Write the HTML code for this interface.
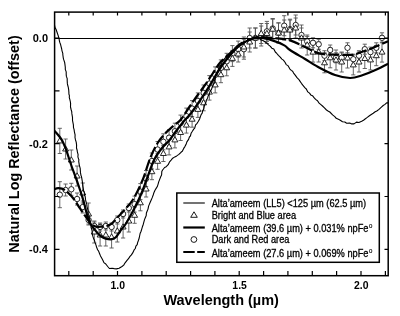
<!DOCTYPE html><html><head><meta charset="utf-8"><style>html,body{margin:0;padding:0;background:#fff;width:400px;height:316px;overflow:hidden}svg{display:block;will-change:transform}text{font-family:"Liberation Sans",sans-serif}</style></head><body>
<svg width="400" height="316" viewBox="0 0 400 316">
<defs><clipPath id="c"><rect x="54" y="12" width="334" height="263"/></clipPath></defs>
<g clip-path="url(#c)" fill="none" stroke="#000" stroke-linejoin="round">
<path d="M59.8,181.7V207.7M57.7,181.7h4.2M57.7,207.7h4.2M59.8,128.3V153.5M57.7,128.3h4.2M57.7,153.5h4.2M65.6,184.0V196.0M63.5,184.0h4.2M63.5,196.0h4.2M65.6,139.0V159.0M63.5,139.0h4.2M63.5,159.0h4.2M71.3,183.3V195.3M69.2,183.3h4.2M69.2,195.3h4.2M71.3,150.0V170.0M69.2,150.0h4.2M69.2,170.0h4.2M77.1,193.0V205.0M75.0,193.0h4.2M75.0,205.0h4.2M77.1,166.0V186.0M75.0,166.0h4.2M75.0,186.0h4.2M82.8,201.0V213.0M80.7,201.0h4.2M80.7,213.0h4.2M82.8,183.0V203.0M80.7,183.0h4.2M80.7,203.0h4.2M88.6,216.0V224.0M86.5,216.0h4.2M86.5,224.0h4.2M88.6,203.0V225.0M86.5,203.0h4.2M86.5,225.0h4.2M94.3,222.0V230.0M92.2,222.0h4.2M92.2,230.0h4.2M94.3,221.0V243.0M92.2,221.0h4.2M92.2,243.0h4.2M100.1,223.0V231.0M98.0,223.0h4.2M98.0,231.0h4.2M100.1,224.0V246.0M98.0,224.0h4.2M98.0,246.0h4.2M105.8,222.0V230.0M103.7,222.0h4.2M103.7,230.0h4.2M105.8,224.0V246.0M103.7,224.0h4.2M103.7,246.0h4.2M111.6,223.0V231.0M109.5,223.0h4.2M109.5,231.0h4.2M111.6,226.0V248.0M109.5,226.0h4.2M109.5,248.0h4.2M117.3,216.0V224.0M115.2,216.0h4.2M115.2,224.0h4.2M117.3,220.0V242.0M115.2,220.0h4.2M115.2,242.0h4.2M123.1,210.0V218.0M121.0,210.0h4.2M121.0,218.0h4.2M123.1,216.0V238.0M121.0,216.0h4.2M121.0,238.0h4.2M128.8,204.0V212.0M126.7,204.0h4.2M126.7,212.0h4.2M128.8,210.0V232.0M126.7,210.0h4.2M126.7,232.0h4.2M134.6,196.1V212.1M132.5,196.1h4.2M132.5,212.1h4.2M134.6,207.3V223.3M132.5,207.3h4.2M132.5,223.3h4.2M140.4,183.6V199.6M138.3,183.6h4.2M138.3,199.6h4.2M140.4,194.8V210.8M138.3,194.8h4.2M138.3,210.8h4.2M146.1,170.5V186.5M144.0,170.5h4.2M144.0,186.5h4.2M146.1,181.0V197.0M144.0,181.0h4.2M144.0,197.0h4.2M151.9,153.0V169.0M149.8,153.0h4.2M149.8,169.0h4.2M151.9,163.7V179.7M149.8,163.7h4.2M149.8,179.7h4.2M157.6,141.5V157.5M155.5,141.5h4.2M155.5,157.5h4.2M157.6,153.3V169.3M155.5,153.3h4.2M155.5,169.3h4.2M163.4,133.8V149.8M161.3,133.8h4.2M161.3,149.8h4.2M163.4,145.5V161.5M161.3,145.5h4.2M161.3,161.5h4.2M169.1,129.7V145.7M167.0,129.7h4.2M167.0,145.7h4.2M169.1,138.9V154.9M167.0,138.9h4.2M167.0,154.9h4.2M174.9,123.2V139.2M172.8,123.2h4.2M172.8,139.2h4.2M174.9,131.9V147.9M172.8,131.9h4.2M172.8,147.9h4.2M180.6,115.1V131.1M178.5,115.1h4.2M178.5,131.1h4.2M180.6,124.5V140.5M178.5,124.5h4.2M178.5,140.5h4.2M186.4,108.1V124.1M184.3,108.1h4.2M184.3,124.1h4.2M186.4,117.1V133.1M184.3,117.1h4.2M184.3,133.1h4.2M192.1,100.6V116.6M190.0,100.6h4.2M190.0,116.6h4.2M192.1,111.2V127.2M190.0,111.2h4.2M190.0,127.2h4.2M197.9,92.9V108.9M195.8,92.9h4.2M195.8,108.9h4.2M197.9,101.4V117.4M195.8,101.4h4.2M195.8,117.4h4.2M203.6,85.0V101.0M201.5,85.0h4.2M201.5,101.0h4.2M203.6,94.8V110.8M201.5,94.8h4.2M201.5,110.8h4.2M209.4,75.6V91.6M207.3,75.6h4.2M207.3,91.6h4.2M209.4,84.1V100.1M207.3,84.1h4.2M207.3,100.1h4.2M215.2,66.9V82.9M213.1,66.9h4.2M213.1,82.9h4.2M215.2,76.9V92.9M213.1,76.9h4.2M213.1,92.9h4.2M220.9,59.9V75.9M218.8,59.9h4.2M218.8,75.9h4.2M220.9,66.7V82.7M218.8,66.7h4.2M218.8,82.7h4.2M226.7,53.3V69.3M224.6,53.3h4.2M224.6,69.3h4.2M226.7,59.8V75.8M224.6,59.8h4.2M224.6,75.8h4.2M232.4,45.6V61.6M230.3,45.6h4.2M230.3,61.6h4.2M232.4,50.4V66.4M230.3,50.4h4.2M230.3,66.4h4.2M238.2,41.1V57.1M236.1,41.1h4.2M236.1,57.1h4.2M238.2,46.0V62.0M236.1,46.0h4.2M236.1,62.0h4.2M243.9,39.2V59.2M241.8,39.2h4.2M241.8,59.2h4.2M243.9,37.0V57.0M241.8,37.0h4.2M241.8,57.0h4.2M249.7,28.0V48.0M247.6,28.0h4.2M247.6,48.0h4.2M249.7,32.0V52.0M247.6,32.0h4.2M247.6,52.0h4.2M255.4,28.0V48.0M253.3,28.0h4.2M253.3,48.0h4.2M255.4,28.0V48.0M253.3,28.0h4.2M253.3,48.0h4.2M261.2,26.0V46.0M259.1,26.0h4.2M259.1,46.0h4.2M261.2,23.5V43.5M259.1,23.5h4.2M259.1,43.5h4.2M266.9,21.4V41.4M264.8,21.4h4.2M264.8,41.4h4.2M266.9,23.5V43.5M264.8,23.5h4.2M264.8,43.5h4.2M272.7,18.5V38.5M270.6,18.5h4.2M270.6,38.5h4.2M272.7,19.2V39.2M270.6,19.2h4.2M270.6,39.2h4.2M278.5,22.8V42.8M276.4,22.8h4.2M276.4,42.8h4.2M278.5,23.0V43.0M276.4,23.0h4.2M276.4,43.0h4.2M284.2,15.7V35.7M282.1,15.7h4.2M282.1,35.7h4.2M284.2,20.0V40.0M282.1,20.0h4.2M282.1,40.0h4.2M290.0,19.2V39.2M287.9,19.2h4.2M287.9,39.2h4.2M290.0,20.0V40.0M287.9,20.0h4.2M287.9,40.0h4.2M295.7,15.0V35.0M293.6,15.0h4.2M293.6,35.0h4.2M295.7,18.0V38.0M293.6,18.0h4.2M293.6,38.0h4.2M301.5,25.0V45.0M299.4,25.0h4.2M299.4,45.0h4.2M301.5,28.0V48.0M299.4,28.0h4.2M299.4,48.0h4.2M307.2,36.4V46.4M305.1,36.4h4.2M305.1,46.4h4.2M307.2,35.0V55.0M305.1,35.0h4.2M305.1,55.0h4.2M313.0,37.8V47.8M310.9,37.8h4.2M310.9,47.8h4.2M313.0,42.1V62.1M310.9,42.1h4.2M310.9,62.1h4.2M318.7,39.3V49.3M316.6,39.3h4.2M316.6,49.3h4.2M318.7,42.0V62.0M316.6,42.0h4.2M316.6,62.0h4.2M324.5,50.7V60.7M322.4,50.7h4.2M322.4,60.7h4.2M324.5,52.8V72.8M322.4,52.8h4.2M322.4,72.8h4.2M330.2,45.0V55.0M328.1,45.0h4.2M328.1,55.0h4.2M330.2,47.8V67.8M328.1,47.8h4.2M328.1,67.8h4.2M336.0,52.8V62.8M333.9,52.8h4.2M333.9,62.8h4.2M336.0,50.0V70.0M333.9,50.0h4.2M333.9,70.0h4.2M341.7,52.8V62.8M339.6,52.8h4.2M339.6,62.8h4.2M341.7,52.0V72.0M339.6,52.0h4.2M339.6,72.0h4.2M347.5,42.8V52.8M345.4,42.8h4.2M345.4,52.8h4.2M347.5,48.0V68.0M345.4,48.0h4.2M345.4,68.0h4.2M353.3,54.2V64.2M351.2,54.2h4.2M351.2,64.2h4.2M353.3,54.9V74.9M351.2,54.9h4.2M351.2,74.9h4.2M359.0,50.7V60.7M356.9,50.7h4.2M356.9,60.7h4.2M359.0,52.0V72.0M356.9,52.0h4.2M356.9,72.0h4.2M364.8,44.2V54.2M362.7,44.2h4.2M362.7,54.2h4.2M364.8,48.5V68.5M362.7,48.5h4.2M362.7,68.5h4.2M370.5,47.1V57.1M368.4,47.1h4.2M368.4,57.1h4.2M370.5,49.9V69.9M368.4,49.9h4.2M368.4,69.9h4.2M376.3,42.8V52.8M374.2,42.8h4.2M374.2,52.8h4.2M376.3,45.7V65.7M374.2,45.7h4.2M374.2,65.7h4.2M382.0,32.8V42.8M379.9,32.8h4.2M379.9,42.8h4.2M382.0,42.1V62.1M379.9,42.1h4.2M379.9,62.1h4.2" fill="none" stroke="#555" stroke-width="0.9"/>
<g fill="#fff" stroke="#111" stroke-width="0.9"><circle cx="59.8" cy="194.7" r="2.7"/><path d="M59.8,137.7l3,5.2h-6z"/><circle cx="65.6" cy="190.0" r="2.7"/><path d="M65.6,145.8l3,5.2h-6z"/><circle cx="71.3" cy="189.3" r="2.7"/><path d="M71.3,156.8l3,5.2h-6z"/><circle cx="77.1" cy="199.0" r="2.7"/><path d="M77.1,172.8l3,5.2h-6z"/><circle cx="82.8" cy="207.0" r="2.7"/><path d="M82.8,189.8l3,5.2h-6z"/><circle cx="88.6" cy="220.0" r="2.7"/><path d="M88.6,210.8l3,5.2h-6z"/><circle cx="94.3" cy="226.0" r="2.7"/><path d="M94.3,228.8l3,5.2h-6z"/><circle cx="100.1" cy="227.0" r="2.7"/><path d="M100.1,231.8l3,5.2h-6z"/><circle cx="105.8" cy="226.0" r="2.7"/><path d="M105.8,231.8l3,5.2h-6z"/><circle cx="111.6" cy="227.0" r="2.7"/><path d="M111.6,233.8l3,5.2h-6z"/><circle cx="117.3" cy="220.0" r="2.7"/><path d="M117.3,227.8l3,5.2h-6z"/><circle cx="123.1" cy="214.0" r="2.7"/><path d="M123.1,223.8l3,5.2h-6z"/><circle cx="128.8" cy="208.0" r="2.7"/><path d="M128.8,217.8l3,5.2h-6z"/><circle cx="134.6" cy="204.1" r="2.7"/><path d="M134.6,212.1l3,5.2h-6z"/><circle cx="140.4" cy="191.6" r="2.7"/><path d="M140.4,199.6l3,5.2h-6z"/><circle cx="146.1" cy="178.5" r="2.7"/><path d="M146.1,185.8l3,5.2h-6z"/><circle cx="151.9" cy="161.0" r="2.7"/><path d="M151.9,168.5l3,5.2h-6z"/><circle cx="157.6" cy="149.5" r="2.7"/><path d="M157.6,158.1l3,5.2h-6z"/><circle cx="163.4" cy="141.8" r="2.7"/><path d="M163.4,150.3l3,5.2h-6z"/><circle cx="169.1" cy="137.7" r="2.7"/><path d="M169.1,143.7l3,5.2h-6z"/><circle cx="174.9" cy="131.2" r="2.7"/><path d="M174.9,136.7l3,5.2h-6z"/><circle cx="180.6" cy="123.1" r="2.7"/><path d="M180.6,129.3l3,5.2h-6z"/><circle cx="186.4" cy="116.1" r="2.7"/><path d="M186.4,121.9l3,5.2h-6z"/><circle cx="192.1" cy="108.6" r="2.7"/><path d="M192.1,116.0l3,5.2h-6z"/><circle cx="197.9" cy="100.9" r="2.7"/><path d="M197.9,106.2l3,5.2h-6z"/><circle cx="203.6" cy="93.0" r="2.7"/><path d="M203.6,99.6l3,5.2h-6z"/><circle cx="209.4" cy="83.6" r="2.7"/><path d="M209.4,88.9l3,5.2h-6z"/><circle cx="215.2" cy="74.9" r="2.7"/><path d="M215.2,81.7l3,5.2h-6z"/><circle cx="220.9" cy="67.9" r="2.7"/><path d="M220.9,71.5l3,5.2h-6z"/><circle cx="226.7" cy="61.3" r="2.7"/><path d="M226.7,64.6l3,5.2h-6z"/><circle cx="232.4" cy="53.6" r="2.7"/><path d="M232.4,55.2l3,5.2h-6z"/><circle cx="238.2" cy="49.1" r="2.7"/><path d="M238.2,50.8l3,5.2h-6z"/><circle cx="243.9" cy="49.2" r="2.7"/><path d="M243.9,43.8l3,5.2h-6z"/><circle cx="249.7" cy="38.0" r="2.7"/><path d="M249.7,38.8l3,5.2h-6z"/><circle cx="255.4" cy="38.0" r="2.7"/><path d="M255.4,34.8l3,5.2h-6z"/><circle cx="261.2" cy="36.0" r="2.7"/><path d="M261.2,30.3l3,5.2h-6z"/><circle cx="266.9" cy="31.4" r="2.7"/><path d="M266.9,30.3l3,5.2h-6z"/><circle cx="272.7" cy="28.5" r="2.7"/><path d="M272.7,26.0l3,5.2h-6z"/><circle cx="278.5" cy="32.8" r="2.7"/><path d="M278.5,29.8l3,5.2h-6z"/><circle cx="284.2" cy="25.7" r="2.7"/><path d="M284.2,26.8l3,5.2h-6z"/><circle cx="290.0" cy="29.2" r="2.7"/><path d="M290.0,26.8l3,5.2h-6z"/><circle cx="295.7" cy="25.0" r="2.7"/><path d="M295.7,24.8l3,5.2h-6z"/><circle cx="301.5" cy="35.0" r="2.7"/><path d="M301.5,34.8l3,5.2h-6z"/><circle cx="307.2" cy="41.4" r="2.7"/><path d="M307.2,41.8l3,5.2h-6z"/><circle cx="313.0" cy="42.8" r="2.7"/><path d="M313.0,48.9l3,5.2h-6z"/><circle cx="318.7" cy="44.3" r="2.7"/><path d="M318.7,48.8l3,5.2h-6z"/><circle cx="324.5" cy="55.7" r="2.7"/><path d="M324.5,59.6l3,5.2h-6z"/><circle cx="330.2" cy="50.0" r="2.7"/><path d="M330.2,54.6l3,5.2h-6z"/><circle cx="336.0" cy="57.8" r="2.7"/><path d="M336.0,56.8l3,5.2h-6z"/><circle cx="341.7" cy="57.8" r="2.7"/><path d="M341.7,58.8l3,5.2h-6z"/><circle cx="347.5" cy="47.8" r="2.7"/><path d="M347.5,54.8l3,5.2h-6z"/><circle cx="353.3" cy="59.2" r="2.7"/><path d="M353.3,61.7l3,5.2h-6z"/><circle cx="359.0" cy="55.7" r="2.7"/><path d="M359.0,58.8l3,5.2h-6z"/><circle cx="364.8" cy="49.2" r="2.7"/><path d="M364.8,55.3l3,5.2h-6z"/><circle cx="370.5" cy="52.1" r="2.7"/><path d="M370.5,56.7l3,5.2h-6z"/><circle cx="376.3" cy="47.8" r="2.7"/><path d="M376.3,52.5l3,5.2h-6z"/><circle cx="382.0" cy="37.8" r="2.7"/><path d="M382.0,48.9l3,5.2h-6z"/></g>
<line x1="54" y1="38.5" x2="388" y2="38.5" stroke-width="1.2"/>
<path d="M54.4,25.0L54.9,26.7L55.3,27.9L56.2,29.8L57.2,32.7L58.2,35.7L59.1,38.8L59.4,40.8L59.8,42.4L60.5,44.2L60.9,45.8L61.7,49.0L62.0,50.8L62.8,53.4L62.8,54.5L63.3,58.1L63.8,59.9L64.6,62.2L64.9,64.1L65.3,67.2L65.3,69.4L66.2,71.9L66.2,74.4L66.4,76.4L67.2,78.6L67.2,80.8L67.4,83.9L67.8,85.5L68.3,87.4L68.7,89.8L68.9,92.6L68.9,94.0L69.4,95.7L69.3,97.6L69.8,99.3L70.3,101.5L70.6,103.3L70.5,107.0L71.1,109.5L71.7,111.5L71.9,113.9L72.2,115.7L72.5,117.4L72.5,120.4L73.0,122.8L73.4,124.8L73.5,127.7L74.1,129.7L74.4,131.8L75.1,134.8L75.0,137.5L75.5,139.9L76.2,142.2L76.6,145.1L76.5,148.0L77.2,150.5L77.3,151.6L78.1,154.6L77.9,156.8L78.6,159.1L78.9,159.8L78.7,161.3L79.3,165.1L80.2,168.4L80.4,171.4L80.5,172.9L81.1,175.8L81.4,176.3L81.8,178.3L82.1,180.2L82.5,182.5L82.6,183.5L82.8,185.8L83.2,188.0L83.7,191.0L84.3,192.1L84.5,195.5L85.2,196.5L85.5,199.4L85.9,201.5L86.8,204.1L86.9,206.0L87.6,208.9L87.9,210.2L88.3,213.4L89.1,215.9L89.4,218.8L90.0,220.2L90.4,222.7L91.0,224.7L91.0,227.2L91.7,229.2L92.1,231.0L92.3,234.2L92.8,236.2L93.6,238.7L94.2,239.7L95.2,242.9L96.1,245.4L96.4,246.6L97.6,249.7L98.6,251.1L99.6,253.7L100.5,255.9L101.8,258.2L103.1,260.8L103.9,262.6L105.8,264.0L107.7,266.5L109.4,268.5L112.1,268.2L114.2,268.6L116.4,268.9L119.1,268.3L122.0,266.5L123.7,265.1L125.1,262.8L127.0,260.4L128.5,258.7L129.8,256.6L131.4,254.9L132.7,252.9L134.1,249.9L135.3,248.5L135.9,246.1L137.2,244.6L137.6,242.6L138.4,240.5L139.2,238.0L139.7,235.5L140.2,233.2L141.0,231.5L141.8,228.9L142.6,226.2L143.3,224.2L143.9,221.9L144.6,219.4L145.4,217.5L146.2,215.6L146.4,213.0L147.1,211.2L148.0,209.1L148.6,206.1L149.2,204.6L150.2,202.3L151.2,200.1L152.1,197.9L153.2,195.0L154.0,192.4L155.0,190.2L156.3,188.1L157.2,186.8L158.1,184.1L158.7,181.9L159.6,179.6L160.7,176.8L161.6,175.0L161.8,171.5L162.6,170.0L164.6,167.5L166.2,166.7L168.2,164.7L169.6,161.8L171.1,160.1L172.7,158.2L174.8,156.9L176.7,155.9L178.9,154.4L181.0,152.3L182.3,151.3L183.7,148.4L184.9,146.6L186.1,144.3L186.9,141.9L188.6,139.4L189.5,136.8L190.4,136.0L191.1,133.3L192.4,131.3L193.7,129.1L194.7,128.1L195.6,124.9L197.1,123.3L198.4,121.3L199.6,119.0L200.5,116.4L201.3,114.3L202.2,113.1L202.7,110.6L203.7,109.1L204.3,106.2L205.1,104.1L206.1,101.8L206.4,100.0L207.6,98.2L208.1,96.1L209.2,94.3L210.2,91.0L211.3,89.9L212.1,87.5L213.0,85.1L214.0,83.3L214.2,81.1L215.1,79.3L215.6,76.2L216.2,74.3L216.9,72.4L218.1,70.4L219.0,67.8L220.2,65.9L221.4,64.3L222.3,61.6L223.7,59.6L225.5,57.7L226.9,56.7L228.7,54.8L230.4,52.6L232.0,50.9L233.7,49.3L235.2,47.4L237.5,45.5L239.7,43.7L241.9,42.3L244.3,42.4L246.3,41.5L247.8,39.5L250.4,39.1L253.0,38.9L255.0,38.2L257.2,37.9L258.9,38.1L260.8,39.9L262.9,40.5L265.6,42.2L267.1,43.4L268.5,44.8L270.4,46.4L271.8,48.2L273.8,49.1L275.3,52.0L276.4,53.0L278.4,55.4L280.2,57.1L281.9,59.1L283.4,60.1L285.0,62.3L286.2,64.6L287.9,65.6L289.9,69.1L291.3,70.4L292.6,71.2L293.6,73.1L295.2,75.1L297.0,77.6L298.7,79.3L300.1,81.4L301.4,83.3L302.8,85.2L304.8,87.6L306.3,89.0L307.8,91.9L309.5,93.1L311.2,95.3L312.5,95.7L313.8,97.4L315.6,99.4L317.5,100.7L319.1,103.1L320.6,104.4L322.5,106.0L324.2,107.7L326.5,110.0L328.4,111.2L329.8,112.0L332.6,114.9L334.8,116.6L336.2,118.3L338.4,119.3L340.3,120.2L342.5,121.7L344.8,122.0L346.7,123.3L349.7,123.0L351.8,123.9L354.0,123.9L356.5,122.1L358.9,122.5L361.7,121.2L363.5,120.2L365.1,119.0L367.3,117.4L369.4,115.8L371.3,114.5L373.2,113.3L375.2,111.8L376.8,111.0L379.0,109.4L381.4,107.1L383.2,105.5L385.0,104.4L386.6,102.8L388.1,102.9" stroke-width="1.1"/>
<path d="M54.4,130.6 C55.6,132.1 59.5,136.1 61.5,139.3 C63.5,142.5 64.6,145.8 66.2,150.0 C67.8,154.2 69.0,158.8 71.0,164.5 C73.0,170.2 76.1,178.4 78.2,184.5 C80.3,190.6 81.8,195.1 83.5,201.0 C85.2,206.9 86.9,215.6 88.5,220.0 C90.1,224.4 91.6,225.4 93.0,227.5 C94.4,229.6 95.6,230.9 96.9,232.3 C98.2,233.7 99.2,234.9 100.7,236.0 C102.2,237.1 103.8,238.1 105.7,238.6 C107.6,239.1 110.3,239.4 112.0,239.2 C113.7,239.0 114.3,238.8 115.8,237.3 C117.3,235.8 119.2,232.3 120.9,230.0 C122.6,227.7 124.0,226.7 126.0,223.5 C128.0,220.3 130.6,215.7 133.0,211.0 C135.4,206.3 138.3,200.7 140.5,195.5 C142.7,190.3 144.2,185.9 146.4,180.0 C148.7,174.1 151.5,165.2 154.0,160.0 C156.5,154.8 159.1,151.8 161.6,148.5 C164.1,145.2 167.0,143.2 169.2,140.5 C171.4,137.8 172.5,135.8 175.0,132.5 C177.5,129.2 181.4,124.2 184.0,121.0 C186.6,117.8 187.8,117.4 190.8,113.5 C193.8,109.6 198.7,102.5 201.9,97.7 C205.1,93.0 206.8,90.1 210.0,85.0 C213.2,79.9 217.4,72.2 221.0,67.0 C224.6,61.8 228.4,57.2 231.6,53.5 C234.8,49.8 236.9,47.3 240.0,45.0 C243.1,42.7 247.0,40.8 250.0,39.5 C253.0,38.2 254.2,37.3 258.0,37.5 C261.8,37.7 268.6,39.3 273.0,40.6 C277.4,41.9 281.5,43.8 284.3,45.4 C287.1,47.0 286.6,47.7 290.0,50.0 C293.4,52.3 300.0,56.0 305.0,59.0 C310.0,62.0 315.0,65.3 320.0,68.0 C325.0,70.7 330.0,73.3 335.0,75.0 C340.0,76.7 345.6,77.9 350.0,78.0 C354.4,78.1 357.6,76.8 361.6,75.5 C365.7,74.2 369.9,72.5 374.3,70.5 C378.7,68.5 385.7,64.8 388.0,63.7" stroke-width="2.2"/>
<path d="M54.4,189.3 C55.0,189.1 56.6,188.1 58.3,188.2 C60.0,188.3 62.2,188.4 64.7,190.0 C67.2,191.6 70.5,194.9 73.0,198.0 C75.5,201.1 77.8,205.3 80.0,208.5 C82.2,211.7 84.2,214.6 86.0,217.0 C87.8,219.4 88.9,221.4 90.5,223.0 C92.1,224.6 93.7,225.9 95.6,226.5 C97.5,227.1 100.0,226.7 101.9,226.6 C103.8,226.5 105.3,226.4 107.0,225.9 C108.7,225.4 110.3,224.8 112.0,223.4 C113.7,222.0 115.4,219.5 117.1,217.7 C118.8,215.9 119.5,215.5 122.2,212.5 C124.9,209.5 129.6,204.9 133.0,199.5 C136.4,194.1 139.7,186.9 142.6,180.0 C145.5,173.1 147.7,164.2 150.2,158.0 C152.7,151.8 155.3,146.9 157.8,142.8 C160.3,138.7 162.6,136.3 165.4,133.3 C168.2,130.3 172.3,126.9 174.8,124.7 C177.3,122.5 178.0,123.1 180.5,120.0 C183.0,116.9 187.2,110.0 190.0,106.0 C192.8,102.0 194.5,99.5 197.0,96.0 C199.5,92.5 202.3,88.8 205.0,85.0 C207.7,81.2 210.4,76.8 213.0,73.0 C215.6,69.2 217.5,65.5 220.6,62.0 C223.7,58.5 228.4,54.8 231.6,52.0 C234.8,49.2 236.9,47.1 240.0,45.0 C243.1,42.9 247.0,40.8 250.0,39.5 C253.0,38.2 254.2,37.2 258.0,37.0 C261.8,36.8 267.7,37.4 273.0,38.0 C278.3,38.6 284.0,38.6 290.0,40.4 C296.0,42.2 303.9,46.8 309.0,49.0 C314.1,51.2 315.3,52.8 320.4,53.7 C325.4,54.7 334.0,54.5 339.3,54.7 C344.6,54.9 348.7,55.2 352.4,54.8 C356.1,54.3 358.0,53.3 361.6,52.0 C365.2,50.7 369.9,49.0 374.3,47.2 C378.7,45.4 385.7,42.3 388.0,41.3" stroke-width="2.2" stroke-dasharray="11,3"/>
</g>
<rect x="54.6" y="12.1" width="333.6" height="263.6" fill="none" stroke="#000" stroke-width="1.5"/>
<path d="M68.8,275.5V271M68.8,12V15.5M93.2,275.5V271M93.2,12V15.5M117.5,275.5V271M117.5,12V15.5M141.9,275.5V271M141.9,12V15.5M166.2,275.5V271M166.2,12V15.5M190.6,275.5V271M190.6,12V15.5M214.9,275.5V271M214.9,12V15.5M239.2,275.5V271M239.2,12V15.5M263.6,275.5V271M263.6,12V15.5M287.9,275.5V271M287.9,12V15.5M312.3,275.5V271M312.3,12V15.5M336.6,275.5V271M336.6,12V15.5M361.0,275.5V271M361.0,12V15.5M385.4,275.5V271M385.4,12V15.5M54,38.0H59.5M388,38.0H384.5M54,90.8H59.5M388,90.8H384.5M54,143.7H59.5M388,143.7H384.5M54,196.5H59.5M388,196.5H384.5M54,249.4H59.5M388,249.4H384.5" stroke="#000" stroke-width="1.2" fill="none"/>
<g font-size="11" font-weight="bold" fill="#000">
<text x="48" y="42.0" text-anchor="end">0.0</text>
<text x="48" y="147.7" text-anchor="end">-0.2</text>
<text x="48" y="253.4" text-anchor="end">-0.4</text>
<text transform="translate(117.8,288.5) scale(0.9,1)" font-size="11.6" text-anchor="middle">1.0</text>
<text transform="translate(239.6,288.5) scale(0.9,1)" font-size="11.6" text-anchor="middle">1.5</text>
<text transform="translate(361.3,288.5) scale(0.9,1)" font-size="11.6" text-anchor="middle">2.0</text>
</g>
<text transform="translate(221.1,305) scale(0.965,1)" font-size="15" font-weight="bold" text-anchor="middle">Wavelength (µm)</text>
<text transform="translate(19.3,144) rotate(-90) scale(0.935,1)" font-size="15.4" font-weight="bold" text-anchor="middle">Natural Log Reflectance (offset)</text>
<rect x="176.8" y="193" width="202.5" height="69.3" fill="#fff" stroke="#000" stroke-width="1.5"/>
<line x1="183.3" y1="203.0" x2="204.8" y2="203.0" stroke="#000" stroke-width="1.1"/>
<path d="M194,211.8 L197.3,217.3 L190.7,217.3Z" fill="none" stroke="#000" stroke-width="0.9"/>
<line x1="183.3" y1="227.5" x2="204.8" y2="227.5" stroke="#000" stroke-width="2.2"/>
<circle cx="193.9" cy="239.5" r="2.9" fill="none" stroke="#000" stroke-width="0.9"/>
<line x1="183.3" y1="252.0" x2="204.8" y2="252.0" stroke="#000" stroke-width="2.2" stroke-dasharray="11.4,2.5"/>
<g font-size="10.2" fill="#000" stroke="#000" stroke-width="0.3">
<text transform="translate(211.7,207.3) scale(0.908,1)">Alta’ameem (LL5) &lt;125 µm (62.5 µm)</text>
<text transform="translate(211.7,218.7) scale(0.908,1)">Bright and Blue area</text>
<text transform="translate(211.7,231.6) scale(0.908,1)">Alta’ameem (39.6 µm) + 0.031% npFe</text>
<text x="368.9" y="227.7" font-size="6" stroke-width="0.15">0</text>
<text transform="translate(211.7,243.4) scale(0.903,1)">Dark and Red area</text>
<text transform="translate(211.7,256.7) scale(0.908,1)">Alta’ameem (27.6 µm) + 0.069% npFe</text>
<text x="368.9" y="252.8" font-size="6" stroke-width="0.15">0</text>
</g>
</svg></body></html>
